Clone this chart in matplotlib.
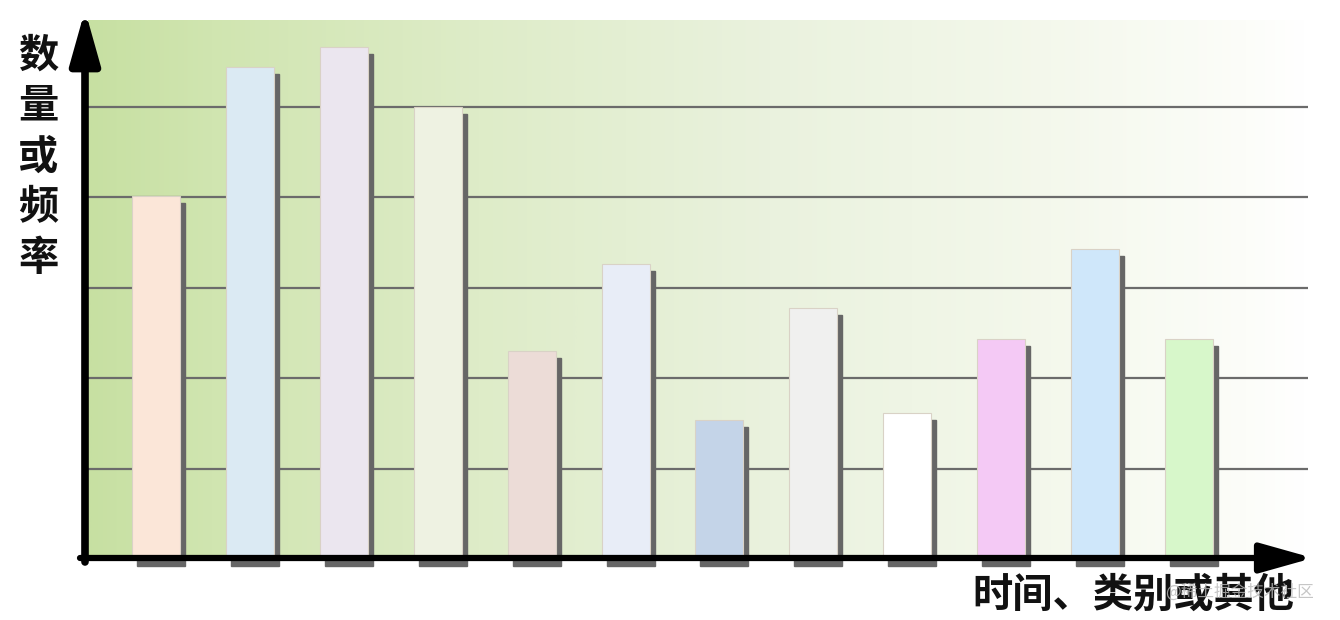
import numpy as np
import matplotlib
matplotlib.use("Agg")
import matplotlib.pyplot as plt
from matplotlib.colors import LinearSegmentedColormap
from matplotlib.patches import Rectangle

plt.rcParams['font.family'] = ['Noto Sans CJK SC', 'DejaVu Sans']

# data (one grid step = 1 unit)
categories = list(range(12))
values = [4.01, 5.44, 5.66, 4.99, 2.30, 3.26, 1.54, 2.77, 1.61, 2.43, 3.43, 2.43]
bar_colors = ['#fbe6d8', '#dbeaf3', '#ebe6ef', '#eef2e2', '#ecdcd7', '#e8edf7',
              '#c4d4e8', '#f0f0ef', '#ffffff', '#f4c9f5', '#cfe7fa', '#d7f7ca']
grid_levels = [1, 2, 3, 4, 5]
ylabel = "数量或频率"
xlabel = "时间、类别或其他"

W, H = 1340, 620
fig = plt.figure(figsize=(W / 100, H / 100), dpi=100)

# plot area: x 88..1308 px, y 20..559 px
left, right, top, bottom = 88, 1308, 20, 559
ax = fig.add_axes([left / W, (H - bottom) / H, (right - left) / W, (bottom - top) / H])
step_x = 93.9
step_y = 90.5
ax.set_xlim((left - 156) / step_x, (right - 156) / step_x)
ax.set_ylim(0, (bottom - top) / step_y)
ax.axis('off')

# green -> white background
bg = LinearSegmentedColormap.from_list('bg', [
    (0.0, (199/255, 224/255, 162/255)),
    (0.1, (208/255, 229/255, 176/255)),
    (0.32, (222/255, 236/255, 200/255)),
    (0.56, (234/255, 242/255, 222/255)),
    (0.79, (244/255, 248/255, 236/255)),
    (0.95, (252/255, 253/255, 249/255)),
    (1.0, (255/255, 255/255, 255/255)),
])
grad = np.linspace(0, 1, 512).reshape(1, -1)
ax.imshow(grad, cmap=bg, aspect='auto', extent=[*ax.get_xlim(), *ax.get_ylim()], zorder=0)

for g in grid_levels:
    ax.axhline(g, color='#6b6b6b', lw=1.6, zorder=1)

width = 48 / step_x
sx, sy = 5 / step_x, 7 / step_y
for x, v, c in zip(categories, values, bar_colors):
    ax.add_patch(Rectangle((x - width / 2 + sx, -sy), width, v, color='#666666',
                           zorder=2, clip_on=False))
ax.bar(categories, values, width=width, color=bar_colors, edgecolor='#d9d2c6',
       linewidth=0.8, zorder=3)

# axis arrows (figure pixels, y from bottom)
ax.annotate("", xy=(85, H - 10), xytext=(85, H - 562), xycoords='figure pixels',
            textcoords='figure pixels',
            arrowprops=dict(arrowstyle='-|>,head_length=1.6,head_width=0.45',
                            mutation_scale=20, lw=5.5, color='black',
                            shrinkA=0, shrinkB=0), zorder=5)
ax.annotate("", xy=(1313, H - 558), xytext=(80, H - 558), xycoords='figure pixels',
            textcoords='figure pixels',
            arrowprops=dict(arrowstyle='-|>,head_length=1.6,head_width=0.45',
                            mutation_scale=20, lw=4.5, color='black',
                            shrinkA=0, shrinkB=0), zorder=5)

fig.text(38 / W, 1 - 157 / H, "\n".join(ylabel), ha='center', va='center',
         fontsize=29, fontweight='bold', linespacing=1.3, color='#111111')
fig.text(1133 / W, 1 - 595 / H, xlabel, ha='center', va='center',
         fontsize=29, fontweight='bold', color='#111111')
fig.text(1240 / W, 1 - 592 / H, "@稀土掘金技术社区", ha='center', va='center',
         fontsize=12, color='#b8b8b8', alpha=0.8)

fig.savefig('out.png', dpi=100)
